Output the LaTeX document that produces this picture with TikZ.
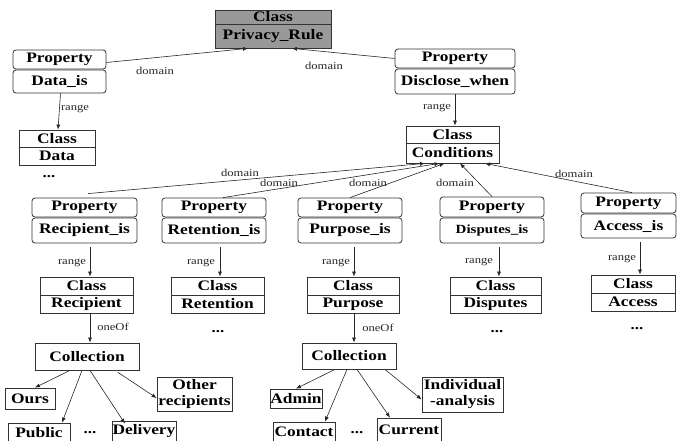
\documentclass[tikz,border=0pt]{standalone}
\usepackage{fontspec}
\setmainfont{Liberation Serif}[FakeStretch=1.2]
\usetikzlibrary{arrows.meta}
\newcommand\placebox[7]{\node[#2, minimum width={#4-#3}, minimum height={#6-#5}] (#1) at ({(#3+#4)/2},{(#5+#6)/2}) {#7};}
\begin{document}
\begin{tikzpicture}[x=1pt,y=-1pt,
  base/.style={draw=black!80, line width=0.8pt, fill=white, inner sep=0pt, align=center,
     font=\bfseries\fontsize{14.5}{15}\selectfont},
  classbox/.style={base},
  propbox/.style={base, rounded corners=3pt},
  leaf/.style={base},
  lbl/.style={font=\fontsize{10.5}{11}\selectfont, inner sep=0pt, text=black!85},
  dots/.style={font=\bfseries\fontsize{14}{15}\selectfont, inner sep=0pt},
  arr/.style={-{Latex[length=5pt,width=4pt]}, line width=0.6pt, draw=black!85}]
\useasboundingbox (0,0) rectangle (679,441);
% Privacy rule
\placebox{prT}{classbox, fill=black!40}{215}{331}{10}{24}{Class}
\placebox{pr}{classbox, fill=black!40}{215}{331}{24}{48}{Privacy\_Rule}
% Data_is
\placebox{dataP}{propbox}{13}{106}{50}{69}{Property}
\placebox{dataB}{propbox}{13}{106}{70}{93}{Data\_is}
\placebox{dataCT}{classbox}{19}{95}{130}{147}{Class}
\placebox{dataC}{classbox}{19}{95}{147}{165}{Data}
\node[dots] (d1) at (49,177) {...};
% Disclose_when
\placebox{discP}{propbox}{395}{515}{49}{68}{Property}
\placebox{discB}{propbox}{395}{515}{69}{94}{Disclose\_when}
\placebox{condT}{classbox}{406}{499}{126}{143}{Class}
\placebox{cond}{classbox}{406}{499}{143}{163}{Conditions}
% second row properties
\placebox{recP}{propbox}{32}{137}{198}{217}{Property}
\placebox{recB}{propbox}{32}{137}{218}{243}{Recipient\_is}
\placebox{retP}{propbox}{162}{266}{198}{217}{Property}
\placebox{retB}{propbox}{162}{266}{218}{243}{Retention\_is}
\placebox{purP}{propbox}{298}{402}{198}{217}{Property}
\placebox{purB}{propbox}{298}{402}{218}{243}{Purpose\_is}
\placebox{disP}{propbox}{440}{544}{197}{217}{Property}
\placebox{disB}{propbox, font=\bfseries\fontsize{12.5}{14}\selectfont}{440}{544}{218}{243}{Disputes\_is}
\placebox{accP}{propbox}{581}{676}{193}{213}{Property}
\placebox{accB}{propbox}{581}{676}{214}{238}{Access\_is}
% third row classes
\placebox{recCT}{classbox}{40}{133}{277}{295}{Class}
\placebox{recC}{classbox}{40}{133}{295}{313}{Recipient}
\placebox{retCT}{classbox}{171}{264}{277}{295}{Class}
\placebox{retC}{classbox}{171}{264}{295}{313}{Retention}
\placebox{purCT}{classbox}{307}{399}{277}{295}{Class}
\placebox{purC}{classbox}{307}{399}{295}{313}{Purpose}
\placebox{disCT}{classbox}{450}{541}{277}{295}{Class}
\placebox{disC}{classbox}{450}{541}{295}{313}{Disputes}
\placebox{accCT}{classbox}{591}{675}{275}{293}{Class}
\placebox{accC}{classbox}{591}{675}{293}{311}{Access}
\node[dots] (d2) at (218,332) {...};
\node[dots] (d3) at (497,332) {...};
\node[dots] (d4) at (637,329) {...};
% collections
\placebox{colL}{leaf}{35}{139}{343}{370}{Collection}
\placebox{colR}{leaf}{302}{396}{343}{369}{Collection}
\placebox{ours}{leaf}{5}{55}{388}{409}{Ours}
\placebox{other}{leaf, font=\bfseries\fontsize{14.5}{16}\selectfont}{157}{232}{377}{411}{Other\\recipients}
\placebox{public}{leaf}{8}{70}{423}{442}{Public}
\placebox{deliv}{leaf}{112}{176}{421}{441}{Delivery}
\node[dots] (d5) at (90,433) {...};
\placebox{admin}{leaf}{270}{322}{389}{408}{Admin}
\placebox{indiv}{leaf, font=\bfseries\fontsize{14.5}{16}\selectfont}{422}{503}{377}{412}{Individual\\-analysis}
\placebox{contact}{leaf}{273}{335}{422}{442}{Contact}
\placebox{current}{leaf}{377}{441}{418}{441}{Current}
\node[dots] (d6) at (357,433) {...};
% top connectors
\draw[arr] ([yshift=-3pt]dataP.east) -- ([xshift=-25pt]pr.south);
\node[lbl] (l1) at (155,71) {domain};
\draw[arr] (discP.west) -- ([xshift=19pt]pr.south);
\node[lbl] (l2) at (324,66) {domain};
\draw[arr] ([xshift=1pt]dataB.south) -- ([xshift=1pt]dataCT.north);
\node[lbl] (l3) at (75,109) {range};
\draw[arr] (discB.south) -- ([xshift=2.5pt]condT.north);
\node[lbl] (l4) at (437,108) {range};
% domain connectors to Conditions
\draw[arr] ([xshift=3.5pt,yshift=4pt]recP.north) -- ([xshift=-27.5pt]cond.south);
\node[lbl] (l5) at (240,173) {domain};
\draw[arr] ([xshift=9pt]retP.north) -- ([xshift=-13pt]cond.south);
\node[lbl] (l6) at (279,183) {domain};
\draw[arr] ([xshift=0pt]purP.north) -- ([xshift=-8pt]cond.south);
\node[lbl] (l7) at (368,183) {domain};
\draw[arr] (disP.north) -- ([xshift=7.5pt]cond.south);
\node[lbl] (l8) at (455,183) {domain};
\draw[arr] ([xshift=3.5pt]accP.north) -- ([xshift=32.5pt]cond.south);
\node[lbl] (l9) at (574,174) {domain};
% range connectors
\draw[arr] ([xshift=5.5pt,yshift=-4pt]recB.south) -- ([xshift=3.5pt]recCT.north);
\node[lbl] (l10) at (72,263) {range};
\draw[arr] ([xshift=6pt,yshift=-4pt]retB.south) -- ([xshift=2.5pt]retCT.north);
\node[lbl] (l11) at (201,263) {range};
\draw[arr] ([xshift=4pt,yshift=-4pt]purB.south) -- ([xshift=1pt]purCT.north);
\node[lbl] (l12) at (336,263) {range};
\draw[arr] ([xshift=7pt,yshift=-4pt]disB.south) -- ([xshift=3.5pt]disCT.north);
\node[lbl] (l13) at (479,262) {range};
\draw[arr] ([xshift=11.5pt,yshift=-4pt]accB.south) -- ([xshift=7pt]accCT.north);
\node[lbl] (l14) at (622,259) {range};
% oneOf
\draw[arr] ([xshift=3.5pt]recC.south) -- ([xshift=3pt]colL.north);
\node[lbl] (l15) at (113,327) {oneOf};
\draw[arr] ([xshift=1pt]purC.south) -- ([xshift=5pt]colR.north);
\node[lbl] (l16) at (378,328) {oneOf};
% collection children left
\draw[arr] ([xshift=-17pt]colL.south) -- ([xshift=5pt]ours.north);
\draw[arr] ([xshift=-5pt]colL.south) -- ([xshift=23pt]public.north);
\draw[arr] ([xshift=3pt]colL.south) -- ([xshift=-19pt,yshift=-3pt]deliv.north);
\draw[arr] ([xshift=31pt,yshift=-2pt]colL.south) -- ([yshift=-4pt]other.west);
% collection children right
\draw[arr] ([xshift=-14pt]colR.south) -- ([xshift=0pt]admin.north);
\draw[arr] ([xshift=-2pt]colR.south) -- ([xshift=21pt]contact.north);
\draw[arr] ([xshift=8pt]colR.south) -- ([xshift=-19pt]current.north);
\draw[arr] ([xshift=36pt]colR.south) -- ([yshift=-5pt]indiv.west);
\end{tikzpicture}
\end{document}
